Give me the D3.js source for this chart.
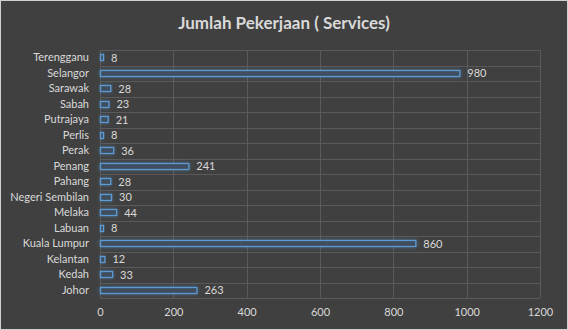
<!DOCTYPE html>
<html><head><meta charset="utf-8">
<script src="https://cdn.jsdelivr.net/npm/d3@7"></script>
<style>body{margin:0;background:#404040;}svg{display:block;}</style>
</head><body>
<script>
const title = "Jumlah Pekerjaan ( Services)";
const categories = ["Terengganu","Selangor","Sarawak","Sabah","Putrajaya","Perlis","Perak","Penang","Pahang","Negeri Sembilan","Melaka","Labuan","Kuala Lumpur","Kelantan","Kedah","Johor"];
const values = [8,980,28,23,21,8,36,241,28,30,44,8,860,12,33,263];
const xTicks = [0,200,400,600,800,1000,1200];

const W = 568, H = 330;
const m = {left:100, right:28, top:50, bottom:32};
const svg = d3.select("body").append("svg").attr("width",W).attr("height",H);
svg.append("rect").attr("x",0.5).attr("y",0.5).attr("width",W-1).attr("height",H-1)
  .attr("fill","#404040").attr("stroke","#d0d0d0");

const defs = svg.append("defs");
const f = defs.append("filter").attr("id","glow").attr("x","-20%").attr("y","-100%").attr("width","140%").attr("height","300%");
f.append("feGaussianBlur").attr("in","SourceAlpha").attr("stdDeviation",2).attr("result","b");
f.append("feFlood").attr("flood-color","#5b9bd5").attr("flood-opacity",0.45);
f.append("feComposite").attr("in2","b").attr("operator","in").attr("result","g");
const mg = f.append("feMerge"); mg.append("feMergeNode").attr("in","g"); mg.append("feMergeNode").attr("in","SourceGraphic");

const x = d3.scaleLinear().domain([0,1200]).range([m.left, 540]);
const y = d3.scaleBand().domain(categories).range([m.top, 298]).paddingInner(0).paddingOuter(0);
const font = "Lato, 'Open Sans', sans-serif";

// grid
const g = svg.append("g");
g.selectAll("line.v").data(xTicks).join("line").attr("class","v")
  .attr("x1",d=>Math.round(x(d))+0.5).attr("x2",d=>Math.round(x(d))+0.5)
  .attr("y1",m.top).attr("y2",298).attr("stroke","#5a5a5a");
const hs = categories.map(c=>y(c)).concat([298]);
g.selectAll("line.h").data(hs).join("line").attr("class","h")
  .attr("x1",x(0)).attr("x2",x(1200)).attr("y1",d=>Math.round(d)+0.5).attr("y2",d=>Math.round(d)+0.5)
  .attr("stroke","#5a5a5a");

// bars
const bh = 7;
svg.append("g").selectAll("rect").data(values).join("rect")
  .attr("x",x(0)+0.5)
  .attr("y",(d,i)=>Math.round(y(categories[i])+y.bandwidth()/2-bh/2)+0.5)
  .attr("width",d=>Math.max(x(d)-x(0),3))
  .attr("height",bh-1)
  .attr("fill","#3f4d5c").attr("stroke","#5b9bd5").attr("stroke-width",1.3)
  .attr("filter","url(#glow)");

// value labels
svg.append("g").selectAll("text").data(values).join("text")
  .attr("x",d=>x(d)+8).attr("y",(d,i)=>y(categories[i])+y.bandwidth()/2)
  .attr("dy","0.35em").attr("fill","#d9d9d9").attr("font-family",font).attr("font-size",11)
  .text(d=>d);

// category axis
const ya = svg.append("g").attr("transform",`translate(${x(0)},0)`)
  .call(d3.axisLeft(y).tickSize(0).tickPadding(11));
ya.select(".domain").remove();
ya.selectAll("text").attr("fill","#d9d9d9").attr("font-family",font).attr("font-size",11);

// x axis
const xa = svg.append("g").attr("transform",`translate(0,298)`)
  .call(d3.axisBottom(x).tickValues(xTicks).tickSize(0).tickPadding(10).tickFormat(d3.format("d")));
xa.select(".domain").remove();
xa.selectAll("text").attr("fill","#d9d9d9").attr("font-family",font).attr("font-size",11);

svg.append("text").attr("x",W/2).attr("y",29).attr("text-anchor","middle")
  .attr("fill","#d9d9d9").attr("font-family",font).attr("font-weight","bold").attr("font-size",17)
  .text(title);
</script>
</body></html>
